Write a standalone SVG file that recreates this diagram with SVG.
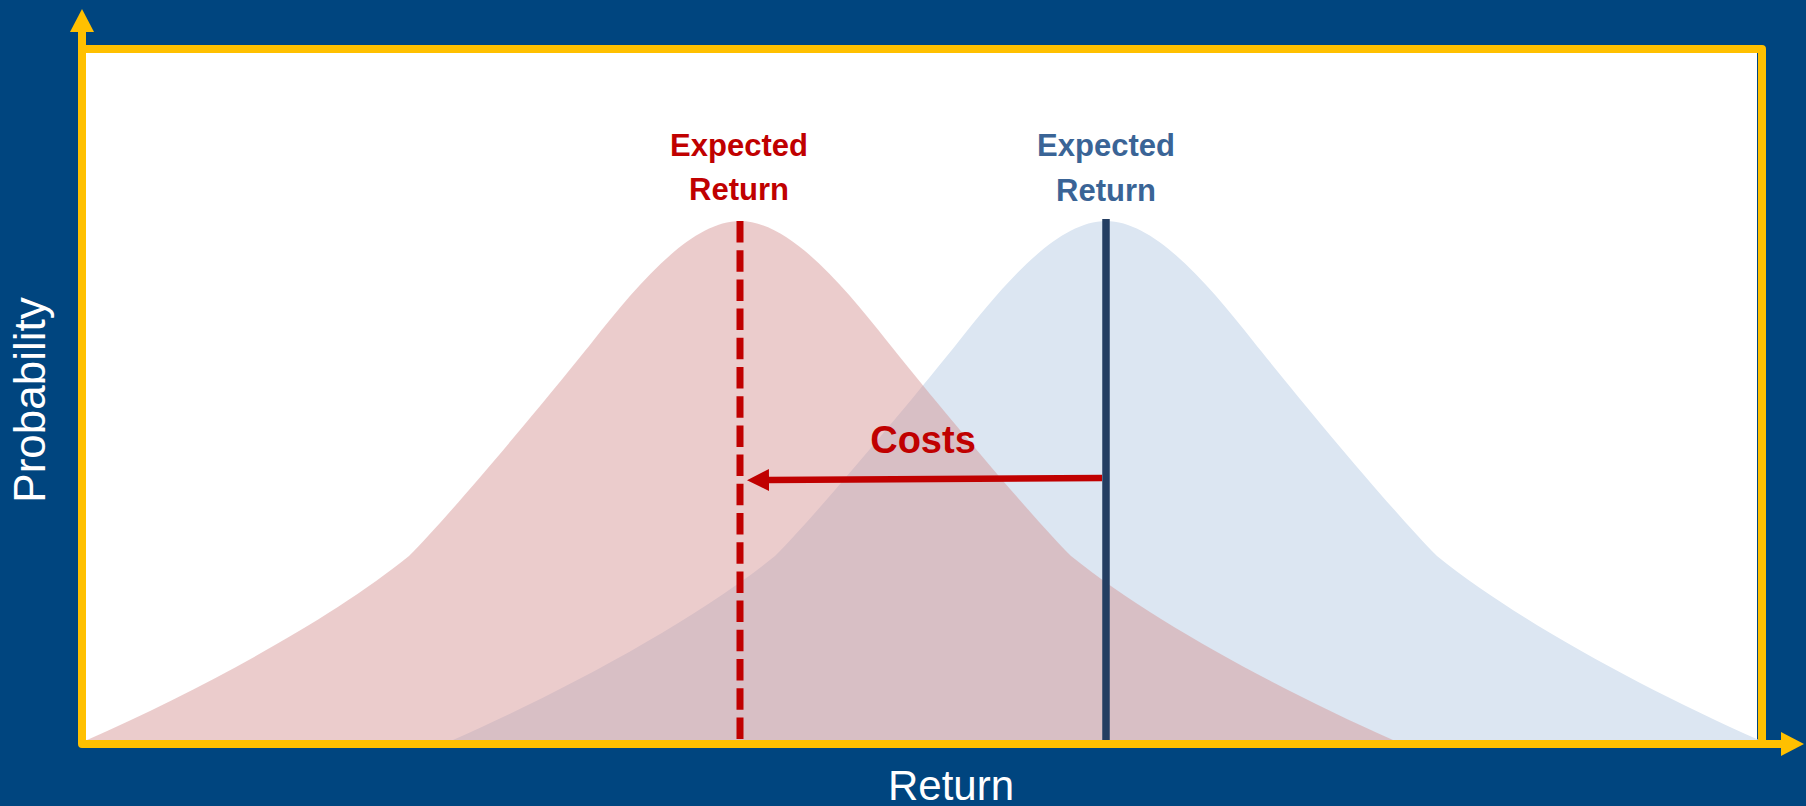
<svg xmlns="http://www.w3.org/2000/svg" width="1806" height="806" viewBox="0 0 1806 806">
<style>
.lbl{font-family:"Liberation Sans",Arial,sans-serif;font-weight:bold;font-size:31px;text-anchor:middle}
.axis{font-family:"Liberation Sans",Arial,sans-serif;fill:#FFFFFF;text-anchor:middle}
.frame{fill:none;stroke:#FFC000;stroke-width:8;stroke-linejoin:round}
</style>
<defs>
<marker id="ahY" viewBox="0 0 23 24" refX="0" refY="12" markerWidth="23" markerHeight="24" markerUnits="userSpaceOnUse" orient="auto-start-reverse">
<path d="M0,0 L23,12 L0,24 Z" fill="#FFC000"/>
</marker>
<marker id="ahR" viewBox="0 0 22 22" refX="0" refY="11" markerWidth="22" markerHeight="22" markerUnits="userSpaceOnUse" orient="auto">
<path d="M0,0 L22,11 L0,22 Z" fill="#C00000"/>
</marker>
<path id="bell" d="M87,740 C200,690 330,620 409,556 C452,513 550,395 593,341 C635,288 690,221 740,221 C790,221 845,288 887,341 C930,395 1028,513 1071,556 C1150,620 1280,690 1393,740 Z"/>
</defs>
<rect x="0" y="0" width="1806" height="806" fill="#00457F"/>
<rect x="82" y="49" width="1675" height="695" fill="#FFFFFF"/>
<g id="curve-after-costs">
<use href="#bell" transform="translate(366,0)" fill="#DCE6F2"/>
</g>
<g id="curve-before-costs">
<use href="#bell" fill="#D59393" fill-opacity="0.47"/>
</g>
<g id="frame">
<path class="frame" d="M82,49 H1762 V744"/>
<path class="frame" d="M82,32 V744 H1781" marker-start="url(#ahY)" marker-end="url(#ahY)"/>
</g>
<g id="connectors">
<line x1="740" y1="221" x2="740" y2="740" stroke="#C00000" stroke-width="7" stroke-dasharray="21.5 7.7"/>
<line x1="1106" y1="219" x2="1106" y2="740" stroke="#243E62" stroke-width="7.5"/>
<line x1="1102" y1="478" x2="769" y2="480" stroke="#C00000" stroke-width="6.5" marker-end="url(#ahR)"/>
</g>
<g id="label-red">
<text class="lbl" fill="#C00000" x="739" y="156">Expected</text>
<text class="lbl" fill="#C00000" x="739" y="200">Return</text>
</g>
<g id="label-blue">
<text class="lbl" fill="#3A6496" x="1106" y="156">Expected</text>
<text class="lbl" fill="#3A6496" x="1106" y="201">Return</text>
</g>
<g id="label-costs">
<text class="lbl" fill="#C00000" x="923" y="453" style="font-size:38px">Costs</text>
</g>
<g id="axis-labels">
<text class="axis" x="951" y="800" font-size="42">Return</text>
<text class="axis" transform="translate(45,400) rotate(-90)" font-size="44">Probability</text>
</g>
</svg>
